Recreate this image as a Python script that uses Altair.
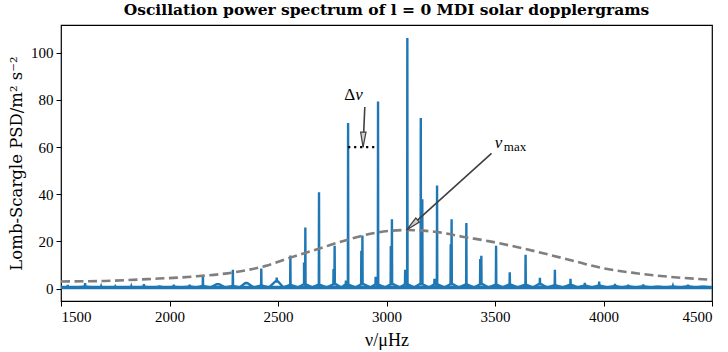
import altair as alt
import pandas as pd

# ---------------- data ----------------
# main mode peaks (frequency in muHz, peak PSD, PSD of the broad base around it)
mode_freq = [1531, 1611, 1685, 1750, 1824, 1882, 1954, 2020, 2093, 2154, 2223, 2292,
             2354, 2423, 2494, 2557, 2626, 2689, 2761, 2823, 2889, 2961, 3025, 3096,
             3158, 3233, 3300, 3368, 3437, 3505, 3568, 3641, 3707, 3776, 3848, 3914,
             3980, 4053, 4114, 4183, 4250, 4320, 4389, 4458]
mode_peak = [1.6, 2.3, 0.9, 0.8, 0.9, 1.9, 1.3, 1.6, 1.7, 5.5, 2.2, 7.9,
             2.8, 8.5, 4.6, 14.0, 25.9, 40.8, 18.1, 70.2, 22.5, 79.3, 29.4, 106.3,
             72.3, 43.7, 29.4, 27.8, 13.9, 18.1, 6.9, 14.3, 4.5, 8.0, 4.1, 2.4,
             3.0, 2.0, 1.6, 1.7, 1.2, 1.1, 1.6, 1.2]
mode_base = [0.6, 0.8, 0.6, 0.6, 0.6, 0.7, 0.7, 0.7, 0.8, 1.0, 1.8, 1.0,
             2.2, 1.2, 3.0, 1.4, 1.6, 1.5, 1.8, 1.5, 1.8, 1.5, 1.8, 1.6,
             1.8, 1.6, 1.8, 1.6, 1.8, 1.5, 1.6, 1.5, 1.8, 1.3, 1.5, 1.2,
             1.2, 1.0, 0.9, 0.9, 0.8, 0.8, 0.9, 0.8]
# secondary components next to the main peaks
side_freq = [2620, 2756, 2813, 2884, 2950, 3020, 3086, 3165, 3221, 3296, 3432]
side_peak = [11.0, 8.3, 3.4, 16.0, 5.0, 18.0, 8.0, 37.9, 4.1, 18.8, 12.5]
floor_val = 0.45

# fitted envelope (dashed grey curve)
env_freq = [1500, 1700, 1900, 2100, 2300, 2450, 2554, 2692, 2831, 2960, 3092,
            3245, 3350, 3476, 3600, 3707, 3850, 3983, 4150, 4300, 4500]
env_val = [3.0, 3.2, 4.0, 5.0, 6.9, 9.8, 13.0, 17.0, 21.0, 23.8, 24.8,
           23.8, 22.0, 20.0, 17.6, 15.3, 12.0, 8.9, 6.5, 5.0, 3.7]

# annotations
dnu_start = [2823]
dnu_end = [2961]
dnu_level = [60]
dnu_tip = [2892, 60]
dnu_tail = [2900, 77]
dnu_label = [2851, 82]
numax_tip = [3092, 24.8]
numax_tail = [3484, 57.3]
numax_label = [3499, 59.6]

x_ticks = [1500, 2000, 2500, 3000, 3500, 4000, 4500]
y_ticks = [0, 20, 40, 60, 80, 100]

# ---------------- build tables ----------------
rows = [(1500, floor_val)]
for f, p, b in zip(mode_freq, mode_peak, mode_base):
    rows += [(f - 6, b), (f - 1.0, b), (f, p), (f + 1.0, b), (f + 6, b)]
for f, p in zip(side_freq, side_peak):
    rows += [(f - 1.0, 1.8), (f, p), (f + 1.0, 1.8)]
for a, c in zip(mode_freq[:-1], mode_freq[1:]):
    rows.append(((a + c) / 2, floor_val))
rows.append((4500, floor_val))
spec = pd.DataFrame(rows, columns=["f", "p"]).sort_values("f").reset_index(drop=True)
spec["o"] = range(len(spec))

floor_df = pd.DataFrame({"f": [1500, 4500], "p": [floor_val, floor_val]})
env = pd.DataFrame({"f": env_freq, "p": env_val})

FONT = "Liberation Serif"
xs = alt.Scale(domain=[1500, 4500], nice=False, zero=False)
ys = alt.Scale(domain=[-5.3, 111.8], nice=False, zero=False)

floor = alt.Chart(floor_df).mark_line(color="#1f77b4", strokeWidth=3.6, clip=True).encode(
    x=alt.X("f:Q", scale=xs, axis=alt.Axis(values=x_ticks, format="d", title="ν/μHz")),
    y=alt.Y("p:Q", scale=ys, axis=alt.Axis(values=y_ticks, title="Lomb-Scargle PSD/m² s⁻²")),
)

line = alt.Chart(spec).mark_line(color="#1f77b4", strokeWidth=2.4, clip=True).encode(
    x=alt.X("f:Q", scale=xs),
    y=alt.Y("p:Q", scale=ys),
    order="o:Q",
)

envelope = alt.Chart(env).mark_line(
    color="#7f7f7f", strokeWidth=2.6, strokeDash=[9, 4.5], interpolate="monotone", clip=True
).encode(x=alt.X("f:Q", scale=xs), y=alt.Y("p:Q", scale=ys))

dotted = alt.Chart(pd.DataFrame({"a": dnu_start, "b": dnu_end, "y": dnu_level})).mark_rule(
    color="black", strokeWidth=2.2, strokeDash=[2.2, 3.8]
).encode(x=alt.X("a:Q", scale=xs), x2="b:Q", y=alt.Y("y:Q", scale=ys))

arrows_df = pd.DataFrame({
    "x": [dnu_tail[0], numax_tail[0]], "y": [dnu_tail[1], numax_tail[1]],
    "x2": [dnu_tip[0], numax_tip[0]], "y2": [dnu_tip[1], numax_tip[1]],
})
shafts = alt.Chart(arrows_df).mark_rule(color="#404040", strokeWidth=1.6).encode(
    x=alt.X("x:Q", scale=xs), y=alt.Y("y:Q", scale=ys), x2="x2:Q", y2="y2:Q"
)

head_path = "M0,0L-0.18,1L0.18,1Z"
head_dnu = alt.Chart(pd.DataFrame({"x": [dnu_tip[0]], "y": [dnu_tip[1]]})).mark_point(
    shape=head_path, size=900, filled=True, fill="#d0d0d0", stroke="#404040",
    strokeWidth=1.2, opacity=1, angle=181
).encode(x=alt.X("x:Q", scale=xs), y=alt.Y("y:Q", scale=ys))
head_numax = alt.Chart(pd.DataFrame({"x": [numax_tip[0]], "y": [numax_tip[1]]})).mark_point(
    shape=head_path, size=900, filled=True, fill="#d0d0d0", stroke="#404040",
    strokeWidth=1.2, opacity=1, angle=228
).encode(x=alt.X("x:Q", scale=xs), y=alt.Y("y:Q", scale=ys))

def label(txt, pos, **kw):
    return alt.Chart(pd.DataFrame({"x": [pos[0]], "y": [pos[1]], "t": [txt]})).mark_text(
        font=FONT, color="black", **kw
    ).encode(x=alt.X("x:Q", scale=xs), y=alt.Y("y:Q", scale=ys), text="t:N")

t_delta = label("Δ", dnu_label, fontSize=17, align="right", baseline="middle", dx=1)
t_nu1 = label("ν", dnu_label, fontSize=17, fontStyle="italic", align="left", baseline="middle", dx=1)
t_nu2 = label("ν", numax_label, fontSize=17, fontStyle="italic", align="left", baseline="alphabetic")
t_max = label("max", numax_label, fontSize=13, align="left", baseline="alphabetic", dx=9, dy=3)

chart = alt.layer(
    floor, line, envelope, dotted, shafts, head_dnu, head_numax, t_delta, t_nu1, t_nu2, t_max
).properties(
    width=651, height=276,
    title=alt.Title("Oscillation power spectrum of l = 0 MDI solar dopplergrams",
                    font="DejaVu Serif", fontSize=15.5, fontWeight="bold", anchor="middle",
                    offset=7, color="black"),
    autosize=alt.AutoSizeParams(type="none"),
    padding={"left": 61, "top": 25, "right": 16, "bottom": 51},
).configure_view(stroke="black", strokeWidth=1.2).configure_axis(
    grid=False, domain=False, ticks=True, tickColor="black", tickSize=5, tickWidth=1,
    labelFont=FONT, labelFontSize=15, labelColor="black", labelPadding=3,
    titleFont=FONT, titleFontSize=18, titleFontWeight="normal", titleColor="black",
).configure_axisX(titlePadding=7).configure_axisY(
    titlePadding=6, titleFont="DejaVu Serif", titleFontSize=16.5
)

chart.save("out.html", embed_options={"renderer": "svg", "actions": False})
